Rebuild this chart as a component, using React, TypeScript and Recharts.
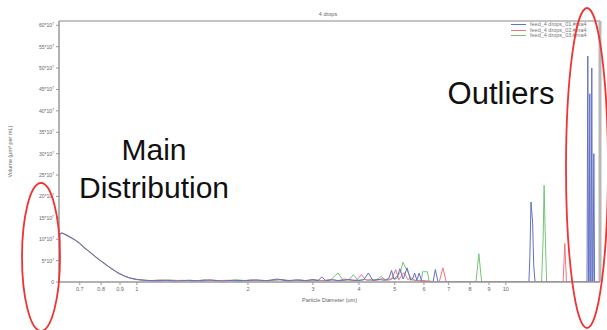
import { LineChart, Line, XAxis, YAxis, ReferenceLine, Legend } from 'recharts';

// particle diameters (um) shared by the main distribution
const mainDiam = [0.615, 0.618, 0.627, 0.65, 0.679, 0.7, 0.723, 0.75, 0.785, 0.82, 0.854, 0.89, 0.928, 0.96, 1.0];
const mainBlue = [0, 11.3, 11.5, 10.8, 9.9, 9.0, 7.9, 6.8, 5.4, 4.2, 3.1, 2.1, 1.35, 0.9, 0.6];
const mainRed = [0, 11.1, 11.4, 10.7, 9.8, 9.1, 8.0, 6.7, 5.5, 4.1, 3.2, 2.0, 1.4, 0.85, 0.55];
const mainGreen = [0, 11.2, 11.4, 10.9, 9.8, 8.9, 7.8, 6.9, 5.3, 4.3, 3.0, 2.2, 1.3, 0.95, 0.6];

// tails (noise, small peaks, outliers)
const tailDiamBlue = [
  1.05, 1.12, 1.2, 1.28, 1.37, 1.47, 1.58, 1.7, 1.83, 1.97,
  2.1, 2.25, 2.4, 2.55, 2.7, 2.85, 3.0, 3.1, 3.17, 3.25,
  3.4, 3.55, 3.75, 3.95, 4.12, 4.24, 4.36, 4.5, 4.7, 4.82,
  4.9, 4.98, 5.08, 5.16, 5.27, 5.4, 5.52, 5.6, 5.66, 5.74,
  5.82, 5.92, 6.35, 6.44, 6.55, 11.55, 11.62, 11.7, 11.82, 11.9,
  12.0, 16.6, 16.68, 16.76, 16.82, 16.89, 16.96, 17.03, 17.1, 17.17,
  17.24, 17.32, 17.4, 18,
];
const tailVolBlue = [
  0.4, 0.3, 0.4, 0.2, 0.4, 0.3, 0.5, 0.2, 0.4, 0.3,
  0.5, 0.3, 0.7, 0.3, 0.5, 0.3, 0.6, 0.3, 1.2, 0.3,
  0.5, 0.3, 0.6, 0.3, 0.5, 2.1, 0.4, 0.6, 0.4, 0.9,
  2.7, 0.6, 1.0, 3.1, 0.7, 3.3, 0.4, 0.9, 2.1, 0.4,
  2.1, 0.1, 0, 2.9, 0, 0, 6, 18.7, 14, 4,
  0, 0, 52.8, 0, 0, 44, 0, 0, 50, 0,
  0, 30, 0, 0,
];

const tailDiamRed = [
  1.08, 1.16, 1.24, 1.33, 1.42, 1.52, 1.64, 1.76, 1.9, 2.03,
  2.17, 2.32, 2.47, 2.62, 2.78, 2.93, 3.08, 3.22, 3.36, 3.5,
  3.66, 3.82, 3.95, 4.06, 4.18, 4.32, 4.46, 4.62, 4.78, 4.9,
  5.03, 5.13, 5.22, 5.3, 5.42, 5.55, 5.7, 5.9, 6.2, 6.6,
  6.75, 6.9, 14.3, 14.45, 14.6, 18,
];
const tailVolRed = [
  0.3, 0.5, 0.3, 0.4, 0.2, 0.5, 0.3, 0.4, 0.2, 0.5,
  0.3, 0.4, 0.6, 0.3, 0.5, 0.2, 0.4, 0.3, 0.6, 0.3,
  0.7, 0.3, 0.5, 1.7, 0.4, 0.6, 0.3, 0.8, 0.4, 0.6,
  2.9, 0.5, 1.6, 2.2, 0.6, 0.9, 0.3, 0.4, 0.2, 0,
  3.3, 0, 0, 9, 0, 0,
];

const tailDiamGreen = [
  1.06, 1.14, 1.22, 1.31, 1.4, 1.5, 1.61, 1.73, 1.86, 2.0,
  2.14, 2.28, 2.44, 2.58, 2.74, 2.9, 3.05, 3.2, 3.36, 3.51,
  3.62, 3.76, 3.86, 3.98, 4.15, 4.3, 4.45, 4.6, 4.72, 4.85,
  5.0, 5.1, 5.18, 5.26, 5.34, 5.45, 5.55, 5.9, 5.95, 6.13,
  6.2, 8.3, 8.45, 8.6, 12.5, 12.62, 12.7, 12.78, 12.9, 18,
];
const tailVolGreen = [
  0.4, 0.2, 0.5, 0.3, 0.4, 0.2, 0.4, 0.3, 0.5, 0.3,
  0.4, 0.3, 0.5, 0.2, 0.4, 0.3, 0.5, 0.3, 0.6, 2.1,
  0.4, 0.5, 1.7, 0.4, 0.6, 0.3, 0.5, 1.3, 0.4, 0.7,
  0.9, 1.6, 2.3, 4.6, 3.5, 2.0, 0.5, 0.2, 2.4, 2.4,
  0, 0, 6.6, 0, 0, 10, 22.6, 12, 0, 0,
];

const xTicks = [0.7, 0.8, 0.9, 1, 2, 3, 4, 5, 6, 7, 8, 9, 10];
const yTicks = [0, 5, 10, 15, 20, 25, 30, 35, 40, 45, 50, 55, 60];

const toRows = (ds: number[], vs: number[]) => ds.map((d, i) => ({ d, v: vs[i] }));

const blueData = toRows([...mainDiam, ...tailDiamBlue], [...mainBlue, ...tailVolBlue]);
const redData = toRows([...mainDiam, ...tailDiamRed], [...mainRed, ...tailVolRed]);
const greenData = toRows([...mainDiam, ...tailDiamGreen], [...mainGreen, ...tailVolGreen]);

const font = '"Liberation Sans", Arial, sans-serif';

const YTick = (props: any) => {
  const { x, y, payload } = props;
  const v = payload.value;
  return (
    <text x={x} y={y} dy={2} textAnchor="end" fontSize={5} fill="#666" fontFamily={font}>
      {v === 0 ? '0' : (
        <>
          {`${v}*10`}
          <tspan fontSize={3.5} dy={-2}>7</tspan>
        </>
      )}
    </text>
  );
};

// blue is drawn last (on top), but the legend lists 01, 02, 03
const renderLegend = (props: any) => (
  <div style={{ fontFamily: font, fontSize: 5.5, color: '#777', lineHeight: '5.5px' }}>
    {[...props.payload]
      .sort((a: any, b: any) => String(a.value).localeCompare(String(b.value)))
      .map((p: any) => (
        <div key={p.value} style={{ display: 'flex', alignItems: 'center', height: 5.5 }}>
          <span style={{ display: 'inline-block', width: 15, height: 1, background: p.color, marginRight: 4 }} />
          <span>{p.value}</span>
        </div>
      ))}
  </div>
);

export default function App() {
  return (
    <div style={{ position: 'absolute', left: 0, top: 0, width: 607, height: 330, background: '#fff' }}>
      <LineChart width={607} height={330} data={blueData} margin={{ top: 21, right: 7, bottom: 18, left: 0 }}>
        <XAxis
          dataKey="d"
          type="number"
          scale="log"
          domain={[0.615, 18]}
          allowDataOverflow
          ticks={xTicks}
          interval={0}
          height={30}
          tick={{ fontSize: 5.5, fill: '#666', fontFamily: font }}
          tickLine={{ stroke: '#999' }}
          tickSize={3}
          axisLine={{ stroke: '#999', strokeWidth: 1.5 }}
          label={{ value: 'Particle Diameter (um)', position: 'insideBottom', offset: 10, fontSize: 5.5, fill: '#666', fontFamily: font }}
        />
        <YAxis
          type="number"
          domain={[0, 61]}
          ticks={yTicks}
          interval={0}
          width={59}
          allowDataOverflow
          tick={<YTick />}
          tickLine={{ stroke: '#999' }}
          tickSize={3}
          axisLine={{ stroke: '#999', strokeWidth: 1.5 }}
          label={{ value: 'Volume (μm³ per mL)', angle: -90, position: 'insideLeft', offset: 10, fontSize: 5.5, fill: '#666', fontFamily: font, style: { textAnchor: 'middle' } }}
        />
        <ReferenceLine y={61} stroke="#c4c4c4" strokeWidth={2} />
        <ReferenceLine x={18} stroke="#b8b8b8" strokeWidth={3} />
        <Legend
          verticalAlign="middle"
          align="center"
          layout="vertical"
          content={renderLegend}
          wrapperStyle={{ top: 22, left: 511, width: 90 }}
        />
        <Line data={greenData} dataKey="v" name="feed_4 drops_03.#ma4" type="linear" stroke="#74c478" strokeWidth={1} dot={false} isAnimationActive={false} />
        <Line data={redData} dataKey="v" name="feed_4 drops_02.#ma4" type="linear" stroke="#f27482" strokeWidth={1} dot={false} isAnimationActive={false} />
        <Line data={blueData} dataKey="v" name="feed_4 drops_01.#ma4" type="linear" stroke="#6270c6" strokeWidth={1} dot={false} isAnimationActive={false} />
        <text x={328} y={16} textAnchor="middle" fontSize={5.5} fill="#666" fontFamily={font}>4 drops</text>
      </LineChart>
      <svg width={607} height={330} style={{ position: 'absolute', left: 0, top: 0, pointerEvents: 'none' }}>
        <text x={154} y={160} textAnchor="middle" fontSize={30} fill="#111" fontFamily={font}>Main</text>
        <text x={154} y={198} textAnchor="middle" fontSize={30} fill="#111" fontFamily={font}>Distribution</text>
        <text x={501} y={104} textAnchor="middle" fontSize={31} fill="#111" fontFamily={font}>Outliers</text>
        <ellipse cx={41} cy={257} rx={19} ry={74} fill="none" stroke="#ee3434" strokeWidth={1.8} />
        <ellipse cx={587} cy={168} rx={21} ry={160} fill="none" stroke="#ee3434" strokeWidth={1.8} />
      </svg>
    </div>
  );
}
